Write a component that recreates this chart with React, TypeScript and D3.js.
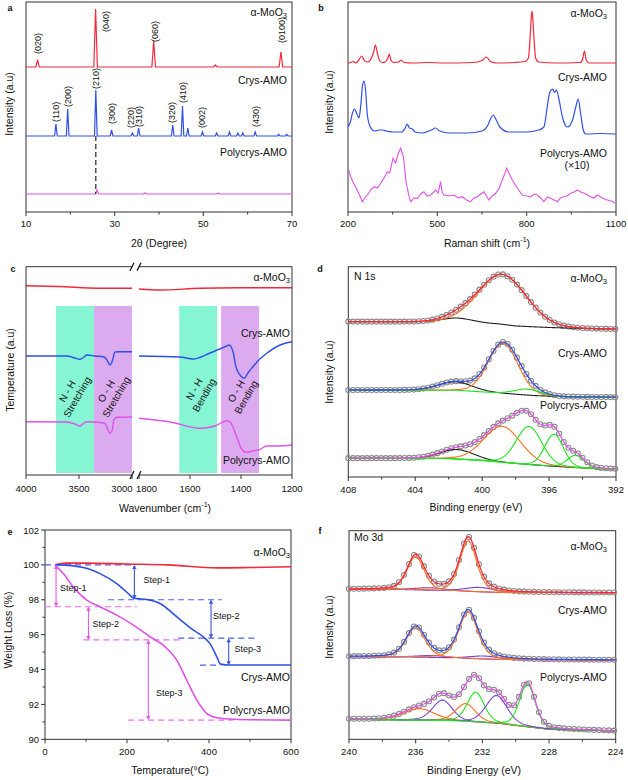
import React from 'react';
import * as d3 from 'd3';

const FONT = "'Liberation Sans', Arial, Helvetica, sans-serif";
const RED = '#f2283c';
const BLUE = '#2f4fe6';
const MAG = '#e052e6';
const ORANGE = '#ff6f1e';
const GREEN = '#1ee61e';
const PURPLE = '#7a3fd6';
const BLACK = '#222';
const AXIS = '#333';
const TEAL = '#86f5d4';
const LILAC = '#dcaaee';

// ---------------- panel a : XRD ----------------
const xrdAlphaBase = 145;
const xrdAlphaPos = [12.6, 25.7, 38.8, 52.7, 67.5];
const xrdAlphaH = [7, 58, 26, 2, 15];
const xrdCrysBase = 76;
const xrdCrysPos = [16.75, 19.4, 25.75, 29.3, 34, 35.4, 43.1, 45.3, 46.5, 49.8, 53, 55.9, 57.8, 58.9, 61.7, 67, 68.8];
const xrdCrysH = [12, 27, 46, 6, 3, 8, 11, 30, 8, 4, 3, 4, 3, 3, 4, 1.5, 1.5];
const xrdPolyBase = 18;
const xrdPolyPos = [26.0, 36.8, 53.4];
const xrdPolyH = [4, 1, 0.8];
const xrdAlphaLabels = ['(020)', '(040)', '(060)', '(0100)'];
const xrdAlphaLabelPos = [12.7, 28.0, 39.1, 67.7];
const xrdAlphaLabelVal = [158, 180, 170, 169];
const xrdCrysLabels = ['(110)', '(200)', '(210)', '(300)', '(220)', '(310)', '(320)', '(410)', '(002)', '(430)'];
const xrdCrysLabelPos = [16.77, 19.4, 25.8, 29.4, 33.7, 35.5, 42.9, 45.4, 49.7, 61.9];
const xrdCrysLabelVal = [90, 105, 123, 88, 84, 85, 89, 109, 84, 85];
const xrdTicks = [10, 30, 50, 70];
const xrdMinor = [20, 40, 60];

// ---------------- panel b : Raman ----------------
const ramanAlpha: [number, number][] = [[200,149],[210,149.5],[218,150.5],[226,149],[236,152],[246,156],[256,151],[266,150],[280,155],[286,160],[292,167],[298,160],[305,152],[315,149.5],[325,150],[334,154],[339,158],[344,152],[352,149.5],[370,150],[379,152],[388,149.5],[420,149],[472,149.5],[520,149],[620,149.5],[650,151.5],[665,155],[678,150.5],[700,149],[760,149.5],[795,150.5],[806,154],[811,172],[815,192],[818,201],[821,192],[825,172],[830,154],[840,150],[900,149],[980,149.5],[988,153],[994,161],[1000,152],[1010,149],[1100,149]];
const ramanCrys: [number, number][] = [[200,85],[208,90],[215,99],[222,103],[230,98],[237,94],[243,107],[249,127],[254,131],[259,122],[265,97],[275,85],[290,81],[305,82],[315,82],[330,81],[350,80],[380,80],[392,84],[399,88],[406,84],[416,83],[425,80],[450,79],[480,82],[494,84],[508,81],[540,79],[600,79],[650,81],[670,87],[680,94],[688,97],[696,93],[710,85],[740,80],[800,80],[840,82],[858,85],[869,105],[877,119],[887,123],[894,119.7],[900,122],[909,112],[920,95],[937,85],[954,92],[965,105],[973,113],[981,99],[990,82],[998,78],[1050,78.5],[1100,78]];
const ramanPoly: [number, number][] = [[202,42],[209,35.3],[220,28],[231,22],[240,16],[248,10.3],[256,14],[265,17],[276,22],[287,25.3],[298,24],[310,28.7],[321,34],[332,40],[340,39],[351,53.7],[360,49],[368,58],[377,63.7],[386,55.3],[395,30],[405,15.3],[411,10.3],[422,14],[433,13.7],[444,18],[455,20.3],[466,16],[478,17],[494,22],[503,19],[511,30.3],[516,20],[522,17],[540,16],[556,17],[570,14],[584,15.3],[598,12],[612,10.3],[623,14],[634,15.3],[645,18],[657,20.3],[665,16],[673,12],[684,16],[696,18.7],[708,24],[718,32],[726,38],[733,43.7],[742,38],[752,32],[760,28],[769,23.7],[785,17],[800,16],[814,15.3],[825,18],[836,17],[847,14],[858,10.3],[870,15],[881,13.7],[892,12],[903,10.3],[914,14],[925,15.3],[936,16],[948,18.7],[959,20],[970,22],[982,20],[993,18.7],[1004,17],[1015,15.3],[1026,14],[1037,17],[1055,14],[1071,12],[1085,11],[1097,8.7]];
const ramanTicks = [200, 500, 800, 1100];
const ramanMinor = [350, 650, 950];

// ---------------- panel c : FTIR ----------------
const ftirAlphaL: [number, number][] = [[4000,189.3],[3700,188.5],[3300,186.7],[3000,186.7]];
const ftirAlphaR: [number, number][] = [[1800,186],[1718,185],[1561,186.7],[1400,187.2],[1200,187.3]];
const ftirCrysL: [number, number][] = [[4000,119],[3616,119],[3538,117],[3491,115.7],[3453,118],[3427,120],[3349,119],[3264,118],[3236,115],[3208,110],[3189,113],[3160,123],[3132,123.3],[3000,123.3]];
const ftirCrysR: [number, number][] = [[1800,119],[1639,118],[1588,116],[1522,122],[1456,129],[1447,130],[1431,123],[1420,108.3],[1404,100],[1387,96.7],[1373,102],[1353,108.3],[1326,116],[1299,121.7],[1247,130],[1200,133.3]];
const ftirPolyL: [number, number][] = [[4000,53.3],[3616,53],[3538,51],[3491,49],[3453,52],[3427,53.3],[3302,52.5],[3255,51.5],[3226,45],[3208,41.7],[3189,44],[3170,55],[3142,57.7],[3000,58]];
const ftirPolyR: [number, number][] = [[1800,56.7],[1678,53],[1561,46.7],[1502,49],[1456,54.3],[1443,53],[1417,38.3],[1400,27],[1378,22.7],[1353,24],[1325,25.7],[1299,29],[1260,29],[1200,30]];
const ftirBandsL = [[3717, 3358, TEAL], [3358, 3000, LILAC]];
const ftirBandsR = [[1642, 1494, TEAL], [1478, 1329, LILAC]];
const ftirBandText = [['N - H', 'Stretching'], ['O - H', 'Stretching'], ['N - H', 'Bending'], ['O - H', 'Bending']];
const ftirTicksL = [4000, 3500, 3000];
const ftirTicksR = [1800, 1600, 1400, 1200];

// ---------------- panel d : N 1s ----------------
const n1sAlphaBgE = [408, 401.5, 399, 398, 396, 394, 392];
const n1sAlphaBgV = [155.3, 155, 153, 151, 149.5, 148.5, 147.7];
const n1sAlphaC = [401.5, 398.8];
const n1sAlphaH = [4, 50];
const n1sAlphaW = [2.2, 3.4];
const n1sAlphaCol = [BLACK, ORANGE];
const n1sCrysBgE = [408, 401.5, 399, 397, 395, 392];
const n1sCrysBgV = [87, 86.7, 84, 81.5, 80.2, 79.7];
const n1sCrysC = [401.6, 398.75, 397.3];
const n1sCrysH = [8.5, 50, 6];
const n1sCrysW = [2.4, 2.1, 1.8];
const n1sCrysCol = [BLACK, ORANGE, GREEN];
const n1sPolyBgE = [408, 402, 400, 398, 396, 394, 392];
const n1sPolyBgV = [18.7, 18.4, 16.5, 13.5, 11, 9, 7.7];
const n1sPolyC = [401.5, 398.8, 397.2, 395.7, 394.4];
const n1sPolyH = [9.5, 36, 38, 32, 12.3];
const n1sPolyW = [2.4, 2.6, 1.8, 1.3, 1.2];
const n1sPolyCol = [BLACK, ORANGE, GREEN, GREEN, GREEN];
const n1sTicks = [408, 404, 400, 396, 392];
const n1sMinor = [406, 402, 398, 394];

// ---------------- panel e : TGA ----------------
const tgaAlpha: [number, number][] = [[25,100.0],[50,100.1],[100,100.1],[200,100.05],[300,100.0],[420,99.83],[500,99.85],[600,99.89]];
const tgaCrys: [number, number][] = [[25,100],[37,100.0],[93.5,99.85],[134,99.5],[175,98.93],[203,98.36],[215.5,98.1],[256,97.98],[280.5,97.79],[321,97.03],[362,96.26],[386,95.88],[402,95.5],[419,94.73],[428,94.31],[450,94.26],[600,94.26]];
const tgaPoly: [number, number][] = [[24,100],[44.7,99.5],[69,98.74],[101.7,97.98],[134,97.6],[175,97.12],[215.5,96.55],[256,95.88],[297,95.22],[321,94.55],[345.5,93.4],[370,92.26],[394,91.49],[419,91.24],[460,91.15],[600,91.1]];
const tgaBlueDash = [[0, 215, 100], [154, 431, 98.0], [325, 520, 95.8], [378, 427, 94.25]];
const tgaBlueArrow = [[218, 100, 98.05], [405, 98.0, 95.8], [448, 95.8, 94.25]];
const tgaBlueStep = [[240, 99.13], [410, 97.07], [462, 95.18]];
const tgaPinkDash = [[0, 224, 97.6], [93.5, 329, 95.7], [203, 459, 91.1]];
const tgaPinkArrow = [[27, 100, 97.6], [106, 97.6, 95.7], [252, 95.7, 91.1]];
const tgaPinkStep = [[36.6, 98.66], [116, 96.6], [271, 92.64]];
const tgaXTicks = [0, 200, 400, 600];
const tgaXMinor = [100, 300, 500];
const tgaYTicks = [90, 92, 94, 96, 98, 100, 102];
const tgaYMinor = [91, 93, 95, 97, 99, 101];

// ---------------- panel f : Mo 3d ----------------
const moAlphaBgE = [240, 237, 235, 233, 231, 224];
const moAlphaBgV = [150, 149.8, 148.8, 147.8, 146.8, 146.6];
const moAlphaC = [235.1, 232.2, 236.0, 232.85];
const moAlphaH = [2.7, 4.5, 33.5, 50.7];
const moAlphaW = [2.2, 2.2, 1.2, 1.2];
const moAlphaCol = [PURPLE, PURPLE, ORANGE, ORANGE];
const moCrysBgE = [240, 237, 235, 233, 231, 224];
const moCrysBgV = [82.6, 82.4, 81.8, 80.8, 79.8, 79.3];
const moCrysC = [235.0, 231.9, 236.0, 232.85];
const moCrysH = [2, 3, 29.5, 46.5];
const moCrysW = [2.2, 2.2, 1.35, 1.35];
const moCrysCol = [PURPLE, PURPLE, ORANGE, ORANGE];
const moPolyBgE = [240, 234, 231, 229.5, 228, 224];
const moPolyBgV = [20, 18.6, 15.8, 12.8, 10, 8.3];
const moPolyC = [235.8, 234.4, 233.0, 232.4, 231.15, 229.3];
const moPolyH = [11.7, 20.5, 18, 30, 27.8, 43];
const moPolyW = [2.2, 1.4, 1.4, 1.2, 1.5, 1.1];
const moPolyCol = [ORANGE, PURPLE, ORANGE, GREEN, PURPLE, GREEN];
const moTicks = [240, 236, 232, 228, 224];
const moMinor = [238, 234, 230, 226];

// ---------------- scales ----------------
const xA = d3.scaleLinear().domain([10, 70]).range([26, 292]);
const yA = d3.scaleLinear().domain([0, 210]).range([212, 2]);
const xB = d3.scaleLinear().domain([200, 1100]).range([348, 616]);
const yB = d3.scaleLinear().domain([0, 210]).range([212, 2]);
const xCL = d3.scaleLinear().domain([4000, 3000]).range([26, 132]);
const xCR = d3.scaleLinear().domain([1800, 1200]).range([139, 292]);
const yC = d3.scaleLinear().domain([0, 208.3]).range([475, 266.7]);
const xD = d3.scaleLinear().domain([408, 392]).range([348.3, 616]);
const yD = d3.scaleLinear().domain([0, 210.3]).range([477, 266.7]);
const xE = d3.scaleLinear().domain([0, 600]).range([45, 291]);
const yE = d3.scaleLinear().domain([90, 102]).range([739.3, 530]);
const xF = d3.scaleLinear().domain([240, 224]).range([349, 615.7]);
const yF = d3.scaleLinear().domain([0, 208.6]).range([739.3, 530.7]);

const TICK_FS = 9.5;
const LAB_FS = 10.5;

function spikes(base: number, pos: number[], hts: number[], hw: number, lo: number, hi: number) {
  const pts: [number, number][] = [[lo, base]];
  pos.forEach((p, i) => { pts.push([p - hw, base], [p, base + hts[i]], [p + hw, base]); });
  pts.push([hi, base]);
  return pts;
}

function linePath(pts: [number, number][], xs: any, ys: any, curve: any = d3.curveLinear) {
  return d3.line<[number, number]>().x(d => xs(d[0])).y(d => ys(d[1])).curve(curve)(pts) || '';
}

function Alpha({ x, y, anchor = 'end' }: any) {
  return (
    <text x={x} y={y} fontSize={LAB_FS} textAnchor={anchor} dominantBaseline="central" fill="#111">
      α-MoO<tspan dy={3} fontSize={7.5}>3</tspan>
    </text>
  );
}

function Lab({ x, y, t, anchor = 'end', fs = LAB_FS }: any) {
  return <text x={x} y={y} fontSize={fs} textAnchor={anchor} dominantBaseline="central" fill="#111">{t}</text>;
}

function XAxis({ scale, major, minor, y, labelY, labels }: any) {
  return (
    <g>
      {major.map((v: number, i: number) => (
        <g key={'M' + i}>
          <line x1={scale(v)} x2={scale(v)} y1={y} y2={y + 4} stroke={AXIS} />
          <text x={scale(v)} y={labelY} fontSize={TICK_FS} textAnchor="middle" dominantBaseline="central" fill="#111">{labels ? labels[i] : v}</text>
        </g>
      ))}
      {(minor || []).map((v: number, i: number) => (
        <line key={'m' + i} x1={scale(v)} x2={scale(v)} y1={y} y2={y + 2.5} stroke={AXIS} />
      ))}
    </g>
  );
}

function YTitle({ x, y, t }: any) {
  return <text transform={`translate(${x},${y}) rotate(-90)`} fontSize={LAB_FS} textAnchor="middle" dominantBaseline="central" fill="#111">{t}</text>;
}

function PanelLetter({ x, y, t }: any) {
  return <text x={x} y={y} fontSize={9} fontWeight="bold" textAnchor="middle" dominantBaseline="central" fill="#111">{t}</text>;
}

function Box({ x0, x1, y0, y1 }: any) {
  return <rect x={x0} y={y0} width={x1 - x0} height={y1 - y0} fill="none" stroke={AXIS} strokeWidth={1} />;
}

// pseudo-Voigt component of an XPS fit
function pv(x: number, c: number, h: number, w: number, eta: number) {
  const r = (x - c) / w;
  return h * ((1 - eta) * Math.exp(-4 * Math.LN2 * r * r) + eta / (1 + 4 * r * r));
}

function XpsSeries({ xs, ys, range, bgE, bgV, C, H, W, cols, env, eta, step, bumpOnBg }: any) {
  const bg = d3.scaleLinear().domain(bgE).range(bgV);
  const grid = d3.range(range[0], range[1] - 0.001, -0.04);
  grid.push(range[1]);
  const comp = (k: number) => grid.map(e => [e, bg(e) + pv(e, C[k], H[k], W[k], eta)] as [number, number]);
  const total = (e: number) => bg(e) + C.reduce((s: number, c: number, k: number) => s + pv(e, c, H[k], W[k], eta), 0);
  const envPts = grid.map(e => [e, total(e)] as [number, number]);
  const dataE = d3.range(range[0], range[1] - 0.001, -step);
  return (
    <g>
      {dataE.map((e, i) => (
        <circle key={i} cx={xs(e)} cy={ys(total(e))} r={2.5} fill="none" stroke="#8a8a8a" strokeWidth={1.1} />
      ))}
      {C.map((c: number, k: number) => (
        <path key={k} d={linePath(comp(k), xs, ys)} fill="none" stroke={cols[k]} strokeWidth={1.1} />
      ))}
      <path d={linePath(envPts, xs, ys)} fill="none" stroke={env} strokeWidth={1.3} />
    </g>
  );
}

function PanelA() {
  const a = spikes(xrdAlphaBase, xrdAlphaPos, xrdAlphaH, 0.4, 10, 70);
  const c = spikes(xrdCrysBase, xrdCrysPos, xrdCrysH, 0.3, 10, 70);
  const p = spikes(xrdPolyBase, xrdPolyPos, xrdPolyH, 0.4, 10, 70);
  return (
    <g>
      <Box x0={26} x1={292} y0={2} y1={212} />
      <path d={linePath(a, xA, yA)} fill="none" stroke={RED} strokeWidth={1.2} />
      <path d={linePath(c, xA, yA)} fill="none" stroke={BLUE} strokeWidth={1.2} />
      <path d={linePath(p, xA, yA)} fill="none" stroke={MAG} strokeWidth={1.2} />
      <line x1={xA(25.75)} x2={xA(25.75)} y1={yA(xrdCrysBase)} y2={yA(xrdPolyBase)} stroke="#111" strokeDasharray="5,3" strokeWidth={1.1} />
      {xrdAlphaLabels.map((t, i) => (
        <text key={t} transform={`translate(${xA(xrdAlphaLabelPos[i])},${yA(xrdAlphaLabelVal[i])}) rotate(-90)`} fontSize={9} textAnchor="start" dominantBaseline="central" fill="#111">{t}</text>
      ))}
      {xrdCrysLabels.map((t, i) => (
        <text key={t} transform={`translate(${xA(xrdCrysLabelPos[i])},${yA(xrdCrysLabelVal[i])}) rotate(-90)`} fontSize={9} textAnchor="start" dominantBaseline="central" fill="#111">{t}</text>
      ))}
      <Alpha x={287} y={12} />
      <Lab x={287} y={80} t="Crys-AMO" />
      <Lab x={287} y={152} t="Polycrys-AMO" />
      <XAxis scale={xA} major={xrdTicks} minor={xrdMinor} y={212} labelY={223.3} />
      <text x={159} y={243.3} fontSize={LAB_FS} textAnchor="middle" dominantBaseline="central" fill="#111">2θ (Degree)</text>
      <YTitle x={9} y={104} t="Intensity (a.u)" />
      <PanelLetter x={10} y={8} t="a" />
    </g>
  );
}

function PanelB() {
  return (
    <g>
      <Box x0={348} x1={616} y0={2} y1={212} />
      <path d={linePath(ramanAlpha, xB, yB, d3.curveMonotoneX)} fill="none" stroke={RED} strokeWidth={1.2} />
      <path d={linePath(ramanCrys, xB, yB, d3.curveMonotoneX)} fill="none" stroke={BLUE} strokeWidth={1.2} />
      <path d={linePath(ramanPoly, xB, yB)} fill="none" stroke={MAG} strokeWidth={1.1} />
      <Alpha x={607} y={13} />
      <Lab x={607} y={77} t="Crys-AMO" />
      <Lab x={607} y={153} t="Polycrys-AMO" />
      <Lab x={577} y={165} t="(×10)" anchor="middle" />
      <XAxis scale={xB} major={ramanTicks} minor={ramanMinor} y={212} labelY={223.3} />
      <text x={487} y={243.3} fontSize={LAB_FS} textAnchor="middle" dominantBaseline="central" fill="#111">
        Raman shift (cm<tspan dy={-4} fontSize={7}>-1</tspan><tspan dy={4}>)</tspan>
      </text>
      <YTitle x={329} y={102} t="Intensity (a.u)" />
      <PanelLetter x={321} y={8} t="b" />
    </g>
  );
}

function PanelC() {
  const top = 266.7, bot = 475;
  const bandTop = 169, bandBot = 2;
  const textPos = [[72, 394], [111, 394], [199, 392], [241, 394]];
  return (
    <g>
      {ftirBandsL.map((b: any, i) => (
        <rect key={'l' + i} x={xCL(b[0])} y={yC(bandTop)} width={xCL(b[1]) - xCL(b[0])} height={yC(bandBot) - yC(bandTop)} fill={b[2]} />
      ))}
      {ftirBandsR.map((b: any, i) => (
        <rect key={'r' + i} x={xCR(b[0])} y={yC(bandTop)} width={xCR(b[1]) - xCR(b[0])} height={yC(bandBot) - yC(bandTop)} fill={b[2]} />
      ))}
      {ftirBandText.map((t, i) => (
        <text key={i} transform={`translate(${textPos[i][0]},${textPos[i][1]}) rotate(-60)`} fontSize={10} textAnchor="middle" fill="#111">
          <tspan x={0} dy={-2}>{t[0]}</tspan>
          <tspan x={0} dy={11.5}>{t[1]}</tspan>
        </text>
      ))}
      <path d={linePath(ftirAlphaL, xCL, yC, d3.curveMonotoneX)} fill="none" stroke={RED} strokeWidth={1.4} />
      <path d={linePath(ftirAlphaR, xCR, yC, d3.curveMonotoneX)} fill="none" stroke={RED} strokeWidth={1.4} />
      <path d={linePath(ftirCrysL, xCL, yC, d3.curveMonotoneX)} fill="none" stroke={BLUE} strokeWidth={1.4} />
      <path d={linePath(ftirCrysR, xCR, yC, d3.curveMonotoneX)} fill="none" stroke={BLUE} strokeWidth={1.4} />
      <path d={linePath(ftirPolyL, xCL, yC, d3.curveMonotoneX)} fill="none" stroke={MAG} strokeWidth={1.4} />
      <path d={linePath(ftirPolyR, xCR, yC, d3.curveMonotoneX)} fill="none" stroke={MAG} strokeWidth={1.4} />
      {/* broken frame */}
      <line x1={26} x2={132} y1={top} y2={top} stroke={AXIS} />
      <line x1={139} x2={292} y1={top} y2={top} stroke={AXIS} />
      <line x1={26} x2={132} y1={bot} y2={bot} stroke={AXIS} />
      <line x1={139} x2={292} y1={bot} y2={bot} stroke={AXIS} />
      <line x1={26} x2={26} y1={top} y2={bot} stroke={AXIS} />
      <line x1={292} x2={292} y1={top} y2={bot} stroke={AXIS} />
      {[top, bot].map((yy, i) => (
        <g key={i} stroke="#111" strokeWidth={1.2}>
          <line x1={130} x2={134} y1={yy + 4} y2={yy - 4} />
          <line x1={137} x2={141} y1={yy + 4} y2={yy - 4} />
        </g>
      ))}
      {ftirTicksL.map((v, i) => (
        <line key={'tl' + i} x1={xCL(v)} x2={xCL(v)} y1={bot} y2={bot + 4} stroke={AXIS} />
      ))}
      {ftirTicksR.map((v, i) => (
        <line key={'tr' + i} x1={xCR(v)} x2={xCR(v)} y1={bot} y2={bot + 4} stroke={AXIS} />
      ))}
      <Lab x={xCL(4000)} y={488.3} t="4000" anchor="middle" fs={TICK_FS} />
      <Lab x={xCL(3500)} y={488.3} t="3500" anchor="middle" fs={TICK_FS} />
      <Lab x={xCL(3000) + 0.5} y={488.3} t="3000" anchor="end" fs={TICK_FS} />
      <Lab x={xCR(1800) - 3} y={488.3} t="1800" anchor="start" fs={TICK_FS} />
      <Lab x={xCR(1600)} y={488.3} t="1600" anchor="middle" fs={TICK_FS} />
      <Lab x={xCR(1400)} y={488.3} t="1400" anchor="middle" fs={TICK_FS} />
      <Lab x={xCR(1200)} y={488.3} t="1200" anchor="middle" fs={TICK_FS} />
      <text x={165} y={508.3} fontSize={LAB_FS} textAnchor="middle" dominantBaseline="central" fill="#111">
        Wavenumber (cm<tspan dy={-4} fontSize={7}>-1</tspan><tspan dy={4}>)</tspan>
      </text>
      <Alpha x={290} y={277} />
      <Lab x={290} y={333} t="Crys-AMO" />
      <Lab x={290} y={460} t="Polycrys-AMO" />
      <YTitle x={10} y={370} t="Temperature (a.u)" />
      <PanelLetter x={13} y={269} t="c" />
    </g>
  );
}

function PanelD() {
  return (
    <g>
      <Box x0={348.3} x1={616} y0={266.7} y1={477} />
      <XpsSeries xs={xD} ys={yD} range={[408, 392]} bgE={n1sAlphaBgE} bgV={n1sAlphaBgV} C={n1sAlphaC} H={n1sAlphaH} W={n1sAlphaW} cols={n1sAlphaCol} env={RED} eta={0.05} step={0.28} />
      <XpsSeries xs={xD} ys={yD} range={[408, 392]} bgE={n1sCrysBgE} bgV={n1sCrysBgV} C={n1sCrysC} H={n1sCrysH} W={n1sCrysW} cols={n1sCrysCol} env={BLUE} eta={0.05} step={0.28} />
      <XpsSeries xs={xD} ys={yD} range={[408, 392]} bgE={n1sPolyBgE} bgV={n1sPolyBgV} C={n1sPolyC} H={n1sPolyH} W={n1sPolyW} cols={n1sPolyCol} env={MAG} eta={0.1} step={0.28} />
      <Lab x={354} y={276} t="N 1s" anchor="start" />
      <Alpha x={607} y={278} />
      <Lab x={607} y={353} t="Crys-AMO" />
      <Lab x={607} y={405} t="Polycrys-AMO" />
      <XAxis scale={xD} major={n1sTicks} minor={n1sMinor} y={477} labelY={489.5} />
      <text x={476} y={506.7} fontSize={LAB_FS} textAnchor="middle" dominantBaseline="central" fill="#111">Binding energy (eV)</text>
      <YTitle x={329} y={372} t="Intensity (a.u)" />
      <PanelLetter x={320} y={269} t="d" />
    </g>
  );
}

function Arrow({ x, y1, y2, color }: any) {
  const d = y2 > y1 ? 1 : -1;
  return (
    <g stroke={color} fill={color} strokeWidth={1.1}>
      <line x1={x} x2={x} y1={y1 + d * 1} y2={y2 - d * 1} />
      <path d={`M${x},${y1} l-2.2,${d * 4} l4.4,0 Z`} stroke="none" />
      <path d={`M${x},${y2} l-2.2,${-d * 4} l4.4,0 Z`} stroke="none" />
    </g>
  );
}

function PanelE() {
  return (
    <g>
      <Box x0={45} x1={291} y0={530} y1={739.3} />
      {tgaBlueDash.map((d, i) => (
        <line key={'bd' + i} x1={xE(d[0])} x2={xE(d[1])} y1={yE(d[2])} y2={yE(d[2])} stroke="#4a62e6" strokeWidth={1.1} strokeDasharray="6,4" />
      ))}
      {tgaPinkDash.map((d, i) => (
        <line key={'pd' + i} x1={xE(d[0])} x2={xE(d[1])} y1={yE(d[2])} y2={yE(d[2])} stroke="#ee6cee" strokeWidth={1.1} strokeDasharray="6,4" />
      ))}
      <path d={linePath(tgaAlpha, xE, yE, d3.curveMonotoneX)} fill="none" stroke={RED} strokeWidth={1.6} />
      <path d={linePath(tgaCrys, xE, yE, d3.curveMonotoneX)} fill="none" stroke={BLUE} strokeWidth={1.6} />
      <path d={linePath(tgaPoly, xE, yE, d3.curveMonotoneX)} fill="none" stroke={MAG} strokeWidth={1.6} />
      {tgaBlueArrow.map((a, i) => <Arrow key={'ba' + i} x={xE(a[0])} y1={yE(a[1])} y2={yE(a[2])} color="#3a56e0" />)}
      {tgaPinkArrow.map((a, i) => <Arrow key={'pa' + i} x={xE(a[0])} y1={yE(a[1])} y2={yE(a[2])} color="#e35ae3" />)}
      {tgaBlueStep.map((s, i) => <Lab key={'bs' + i} x={xE(s[0])} y={yE(s[1])} t={`Step-${i + 1}`} anchor="start" fs={9} />)}
      {tgaPinkStep.map((s, i) => <Lab key={'ps' + i} x={xE(s[0])} y={yE(s[1])} t={`Step-${i + 1}`} anchor="start" fs={9} />)}
      <Alpha x={290} y={551.7} />
      <Lab x={290} y={676.7} t="Crys-AMO" />
      <Lab x={290} y={710} t="Polycrys-AMO" />
      <XAxis scale={xE} major={tgaXTicks} minor={tgaXMinor} y={739.3} labelY={751.7} />
      {tgaYTicks.map(v => (
        <g key={v}>
          <line x1={41} x2={45} y1={yE(v)} y2={yE(v)} stroke={AXIS} />
          <Lab x={39} y={yE(v)} t={String(v)} anchor="end" fs={TICK_FS} />
        </g>
      ))}
      {tgaYMinor.map(v => <line key={v} x1={42.5} x2={45} y1={yE(v)} y2={yE(v)} stroke={AXIS} />)}
      <text x={170} y={770} fontSize={LAB_FS} textAnchor="middle" dominantBaseline="central" fill="#111">Temperature(°C)</text>
      <YTitle x={8} y={630} t="Weight Loss (%)" />
      <PanelLetter x={10} y={532} t="e" />
    </g>
  );
}

function PanelF() {
  return (
    <g>
      <Box x0={349} x1={615.7} y0={530.7} y1={739.3} />
      <XpsSeries xs={xF} ys={yF} range={[240, 224]} bgE={moAlphaBgE} bgV={moAlphaBgV} C={moAlphaC} H={moAlphaH} W={moAlphaW} cols={moAlphaCol} env={RED} eta={0.35} step={0.3} />
      <XpsSeries xs={xF} ys={yF} range={[240, 224]} bgE={moCrysBgE} bgV={moCrysBgV} C={moCrysC} H={moCrysH} W={moCrysW} cols={moCrysCol} env={BLUE} eta={0.35} step={0.3} />
      <XpsSeries xs={xF} ys={yF} range={[240, 224]} bgE={moPolyBgE} bgV={moPolyBgV} C={moPolyC} H={moPolyH} W={moPolyW} cols={moPolyCol} env={MAG} eta={0.3} step={0.3} />
      <Lab x={354} y={537} t="Mo 3d" anchor="start" />
      <Alpha x={607} y={546} />
      <Lab x={607} y={610} t="Crys-AMO" />
      <Lab x={607} y={676.7} t="Polycrys-AMO" />
      <XAxis scale={xF} major={moTicks} minor={moMinor} y={739.3} labelY={751.7} />
      <text x={474} y={770} fontSize={LAB_FS} textAnchor="middle" dominantBaseline="central" fill="#111">Binding Energy (eV)</text>
      <YTitle x={329} y={627} t="Intensity (a.u)" />
      <PanelLetter x={320} y={531} t="f" />
    </g>
  );
}

export default function App() {
  return (
    <svg width={628} height={780} style={{ position: 'absolute', left: 0, top: 0, background: '#fff' }} fontFamily={FONT}>
      <rect width={628} height={780} fill="#fff" />
      <PanelA />
      <PanelB />
      <PanelC />
      <PanelD />
      <PanelE />
      <PanelF />
    </svg>
  );
}
